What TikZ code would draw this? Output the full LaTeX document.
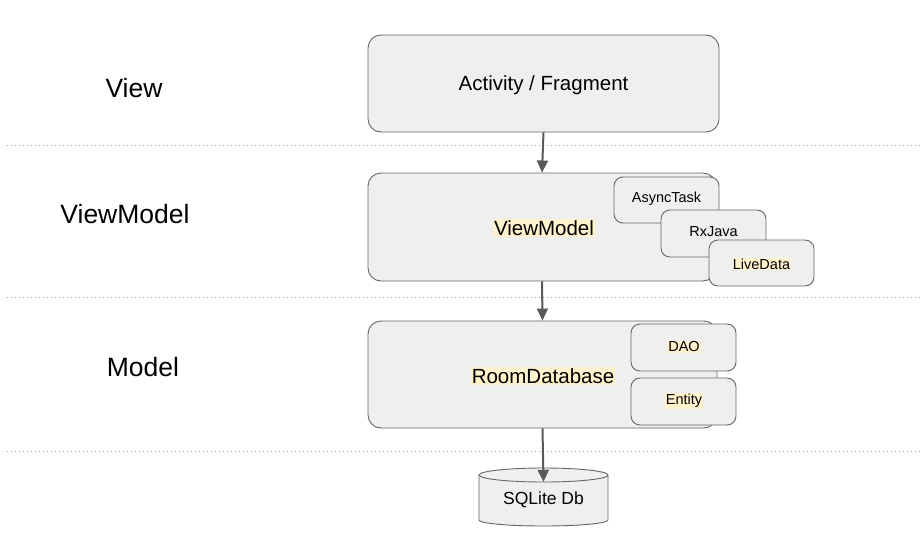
\documentclass[tikz,border=0pt]{standalone}
\usepackage{fontspec}
\setmainfont{Liberation Sans}
\usetikzlibrary{arrows.meta}
\definecolor{boxfill}{HTML}{EFEFEF}
\definecolor{boxline}{HTML}{666666}
\definecolor{hl}{HTML}{FFF2CC}
\definecolor{arrowc}{HTML}{595959}
\definecolor{sep}{HTML}{999999}
\begin{document}
\begin{tikzpicture}[x=1pt,y=-1pt,
  layerbox/.style={draw=boxline,fill=boxfill,line width=0.9pt,rounded corners=13pt},
  subbox/.style={draw=boxline,fill=boxfill,line width=0.9pt,rounded corners=9pt},
  bigtxt/.style={font=\fontsize{20.5}{24}\selectfont,inner sep=1pt},
  smalltxt/.style={font=\fontsize{14.5}{17}\selectfont,inner sep=1pt},
  marked/.style={fill=hl},
  layerlabel/.style={font=\fontsize{26.5}{30}\selectfont,inner sep=0pt},
  flow/.style={draw=arrowc,line width=2pt,-{Triangle[length=12pt,width=11pt]}},
  divider/.style={draw=sep,line width=0.9pt,dash pattern=on 1pt off 3pt}
]
\useasboundingbox (0,0) rectangle (920,554);
\fill[white] (0,0) rectangle (920,554);

% layer dividers
\draw[divider] (7,145) -- (920,145);
\draw[divider] (7,297) -- (920,297);
\draw[divider] (7,451) -- (920,451);

% layer names
\node[layerlabel] (lview) at (134,88) {View};
\node[layerlabel] (lvm) at (125,214) {ViewModel};
\node[layerlabel] (lmodel) at (143,367) {Model};

% View layer
\node[layerbox,minimum width=351,minimum height=97,inner sep=0pt] (act) at (543.5,83.5) {};
\node[bigtxt] at (543.5,85) {Activity / Fragment};

% ViewModel layer
\node[layerbox,minimum width=348,minimum height=108,inner sep=0pt] (vm) at (542,227) {};
\node[bigtxt,marked] (vmt) at (544,228) {ViewModel};
\node[subbox,minimum width=105,minimum height=46,inner sep=0pt] (async) at (666.5,200) {};
\node[smalltxt] at (666.5,199) {AsyncTask};
\node[subbox,minimum width=105,minimum height=47,inner sep=0pt] (rx) at (713.5,233.5) {};
\node[smalltxt] at (713.5,232) {RxJava};
\node[subbox,minimum width=105,minimum height=46,inner sep=0pt] (live) at (761.5,263) {};
\node[smalltxt,marked] at (761.5,264) {LiveData};

% Model layer
\node[layerbox,minimum width=349,minimum height=107,inner sep=0pt] (room) at (542.5,374.5) {};
\node[bigtxt,marked] (roomt) at (543,376) {RoomDatabase};
\node[subbox,minimum width=105,minimum height=47,inner sep=0pt] (dao) at (683.5,347.5) {};
\node[smalltxt,marked] at (684,347) {DAO};
\node[subbox,minimum width=105,minimum height=47,inner sep=0pt] (entity) at (683.5,401.5) {};
\node[smalltxt,marked] at (684,401) {Entity};

% database cylinder (y axis points down, so arcs through 90 degrees bulge downwards)
\draw[draw=boxline,fill=boxfill,line width=0.9pt]
  (479,475) -- (479,520) arc[start angle=180,end angle=0,x radius=64.5,y radius=6]
  -- (608,475) arc[start angle=0,end angle=-180,x radius=64.5,y radius=7] -- cycle;
\draw[draw=boxline,line width=0.9pt]
  (479,475) arc[start angle=180,end angle=0,x radius=64.5,y radius=7];
\node[minimum width=129,minimum height=36,inner sep=0pt,font=\fontsize{17.5}{21}\selectfont] (db) at (543.5,500) {SQLite Db};

% data flow
\draw[flow] (act.south) -- (vm.north);
\draw[flow] (vm.south) -- (room.north);
\draw[flow] (room.south) -- (db.north);
\end{tikzpicture}
\end{document}
